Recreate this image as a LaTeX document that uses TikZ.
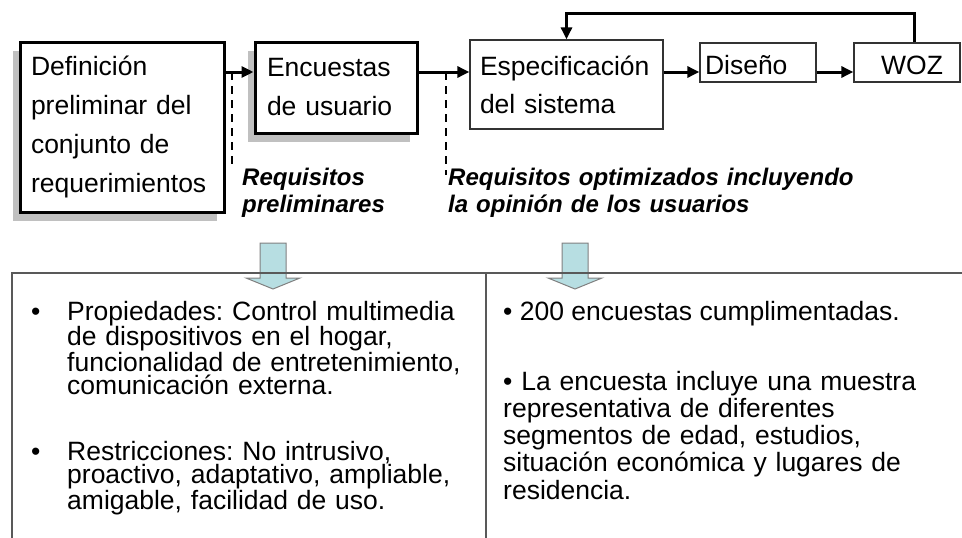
\documentclass[tikz,border=0pt]{standalone}
\usepackage{fontspec}
\setmainfont{Liberation Sans}
\usepackage{xcolor}
\usetikzlibrary{shadows,arrows.meta}

\definecolor{arrowfill}{RGB}{183,222,226}
\definecolor{shadowgray}{RGB}{192,192,192}
\frenchspacing

\begin{document}
\begin{tikzpicture}[x=1pt, y=-1pt,
  thickbox/.style={draw=black, line width=3pt, fill=white, align=left, inner ysep=0pt,
    drop shadow={shadow xshift=-7pt, shadow yshift=-9pt, fill=shadowgray, opacity=1},
    font=\fontsize{26.5}{39}\selectfont},
  thinbox/.style={draw=black!80, line width=1.3pt, fill=white, align=left, inner ysep=0pt,
    font=\fontsize{26.5}{38}\selectfont},
  flow/.style={line width=3pt, -{Triangle[length=12pt,width=11pt]}},
  link/.style={line width=2.2pt, dash pattern=on 8pt off 6pt},
  reqtext/.style={font=\fontsize{24}{27}\selectfont\bfseries\itshape, align=left, inner sep=0pt, anchor=base west},
  bodytext/.style={inner sep=0pt, anchor=base west, align=left, font=\fontsize{26.5}{23.5}\selectfont},
  bigarrow/.style={draw=gray, line width=1pt, fill=arrowfill},
  tableline/.style={draw=black!65, line width=1.3pt}]
  \useasboundingbox (0,0) rectangle (962,538);

  % Process boxes
  \node[thickbox, inner xsep=11pt, text width=182pt, minimum height=170pt] (def) at (122,127)
    {Definición\\preliminar del\\conjunto de\\requerimientos};
  \node[thickbox, inner xsep=12pt, text width=138pt, minimum height=91pt] (enc) at (336,87.5)
    {Encuestas\\de usuario};
  \node[thinbox, inner xsep=10pt, text width=173pt, minimum height=89pt] (spec) at (566.5,84.5)
    {Especificación\\del sistema};
  \node[thinbox, inner xsep=5pt, text width=106pt, minimum height=39pt, text height=24pt, text depth=0pt] (dis) at (758,62.5) {Diseño};
  \node[thinbox, inner xsep=17pt, text width=72pt, minimum height=39pt, text height=24pt, text depth=0pt, align=right] (woz) at (907,62.5) {WOZ};

  % Flow between the boxes
  \coordinate (lane) at (0,72);
  \draw[flow] (def.east |- lane) -- (enc.west |- lane);
  \draw[flow] (enc.east |- lane) -- (spec.west |- lane);
  \draw[flow] (spec.east |- lane) -- (dis.west |- lane);
  \draw[flow] (dis.east |- lane) -- (woz.west |- lane);
  \draw[flow] ([xshift=7pt]woz.north) -- ++(0,-29) -| (spec.north);

  % Dashed taps and their labels
  \coordinate (tapA) at (232,72);
  \coordinate (tapAend) at (232,165);
  \coordinate (tapB) at (446,72);
  \coordinate (tapBend) at (446,175);
  \draw[link] (tapA) -- (tapAend);
  \draw[link] (tapB) -- (tapBend);
  \node[reqtext, text width=200pt] (reqA) at (242,185) {Requisitos\\preliminares};
  \node[reqtext, text width=450pt] (reqB) at (448,185) {Requisitos optimizados incluyendo\\la opinión de los usuarios};

  % Block arrows
  \foreach \cx in {273,575}
    \draw[bigarrow] (\cx-13,243) -- (\cx+13,243) -- (\cx+13,278) -- (\cx+27,278)
      -- (\cx,289) -- (\cx-27,278) -- (\cx-13,278) -- cycle;

  % Table
  \draw[tableline] (12,538) -- (12,273) -- (962,273);
  \draw[tableline] (486,273) -- (486,538);

  % Left column
  \node[bodytext] (dotA) at (31,320) {•};
  \node[bodytext, text width=410pt] (props) at (67,320)
    {Propiedades: Control multimedia\\de dispositivos en el hogar,\\funcionalidad de entretenimiento,\\comunicación externa.};
  \node[bodytext] (dotB) at (31,460) {•};
  \node[bodytext, text width=410pt] (restr) at (67,460)
    {Restricciones: No intrusivo,\\proactivo, adaptativo, ampliable,\\amigable, facilidad de uso.};

  % Right column
  \node[bodytext, font=\fontsize{26.5}{27.3}\selectfont] (survA) at (503,320) {• 200 encuestas cumplimentadas.};
  \node[bodytext, text width=450pt, font=\fontsize{26.5}{27.3}\selectfont] (survB) at (503,390)
    {• La encuesta incluye una muestra\\representativa de diferentes\\segmentos de edad, estudios,\\situación económica y lugares de\\residencia.};
\end{tikzpicture}
\end{document}
